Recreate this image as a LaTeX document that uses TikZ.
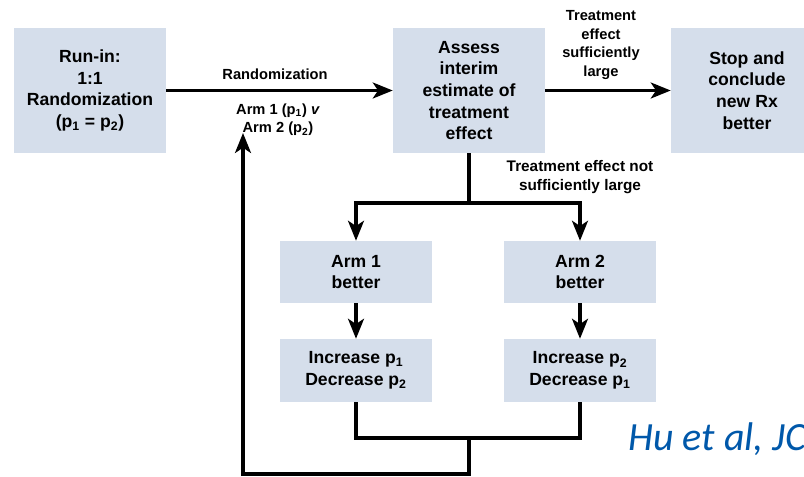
\documentclass[tikz,border=0pt]{standalone}
\usepackage{fontspec}
\setmainfont{Liberation Sans}
\newfontfamily\citefont{Carlito}
\usetikzlibrary{arrows.meta}
\definecolor{boxfill}{RGB}{213,222,235}
\definecolor{citeblue}{RGB}{0,88,170}
\begin{document}
\begin{tikzpicture}[
  x=0.75pt, y=-0.75pt,
  box/.style={fill=boxfill,minimum width=114pt,align=center,inner sep=0pt,
    font=\fontsize{13.2}{16.2}\selectfont\bfseries},
  lbl/.style={align=center,inner sep=0pt,font=\fontsize{11}{13.8}\selectfont\bfseries},
  line/.style={line width=2.4pt},
  arr/.style={line width=2.4pt,-{Stealth[length=15pt,width=12pt,inset=4pt]}},
]
  \clip (0,0) rectangle (804,476);

  % top row
  \node[box,minimum height=93.75pt] (runin) at (90,90.5) {Run-in:\\1:1\\Randomization\\(p\textsubscript{1} = p\textsubscript{2})};
  \node[box,minimum height=93.75pt] (assess) at (469,90.5) {Assess\\interim\\estimate of\\treatment\\effect};
  \node[box,minimum height=93.75pt] (stop) at (747,90.5) {Stop and\\conclude\\new Rx\\better};

  % arms
  \node[box,minimum height=46.5pt] (arm1) at (356,272) {Arm 1\\better};
  \node[box,minimum height=46.5pt] (arm2) at (580,272) {Arm 2\\better};
  \node[box,minimum height=47.25pt] (inc1) at (356,370.5) {Increase p\textsubscript{1}\\Decrease p\textsubscript{2}};
  \node[box,minimum height=47.25pt] (inc2) at (580,370.5) {Increase p\textsubscript{2}\\Decrease p\textsubscript{1}};

  % labels on connectors
  \node[lbl] (randlbl) at (275,74) {Randomization};
  \node[lbl] (armlbl) at (278,120) {Arm 1 (p\textsubscript{1}) \textit{v}\\Arm 2 (p\textsubscript{2})};
  \node[lbl] (biglbl) at (601,45) {Treatment\\effect\\sufficiently\\large};
  \node[lbl,font=\fontsize{11.5}{14}\selectfont\bfseries] (smalllbl) at (580,177) {Treatment effect not\\sufficiently large};

  \coordinate (fork) at (469,203);
  \coordinate (join) at (469,438);
  \coordinate (loop) at (243,474);
  \coordinate (loopend) at (243,133);

  \draw[arr] (runin) -- (assess);
  \draw[arr] (assess) -- (stop);
  \draw[line] (assess) -- (fork);
  \draw[arr] (fork) -| (arm1);
  \draw[arr] (fork) -| (arm2);
  \draw[arr] (arm1) -- (inc1);
  \draw[arr] (arm2) -- (inc2);

  % back to randomization
  \draw[line] (inc1) |- (join);
  \draw[line] (inc2) |- (join);
  \draw[arr] (join) |- (loop) -- (loopend);

  \node[anchor=base west,inner sep=0pt,text=citeblue,font=\fontsize{30}{34}\citefont\itshape] (cite) at (628,450) {Hu et al, JC};
\end{tikzpicture}
\end{document}
